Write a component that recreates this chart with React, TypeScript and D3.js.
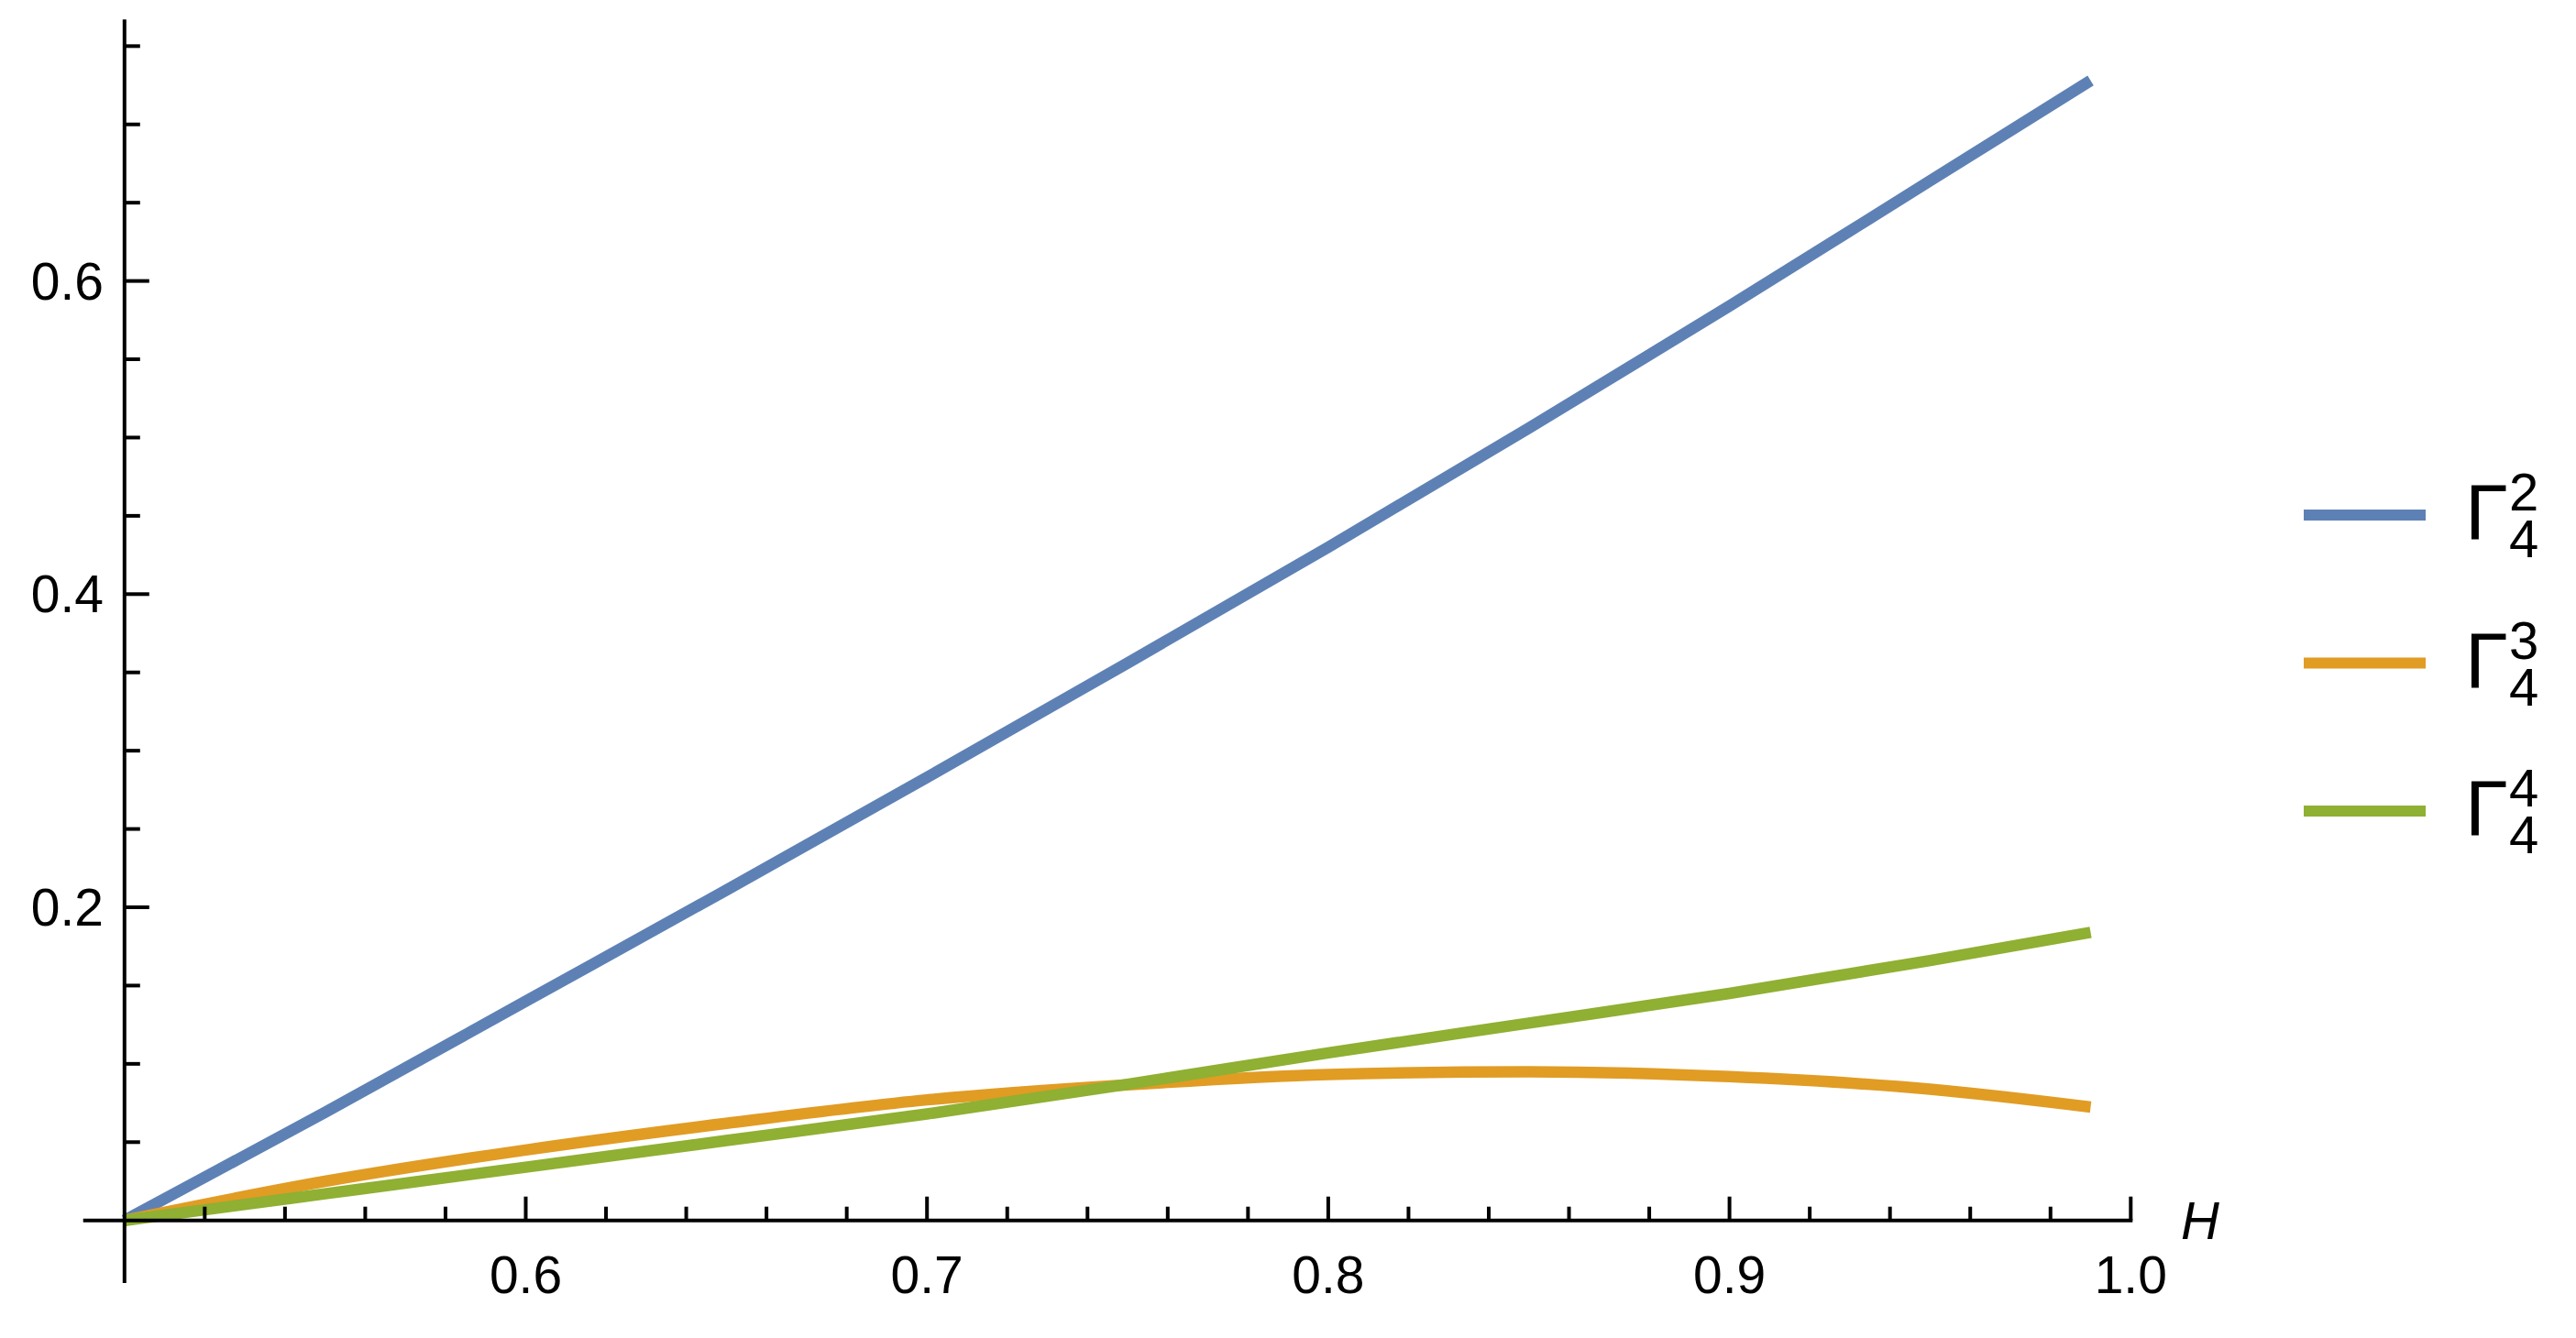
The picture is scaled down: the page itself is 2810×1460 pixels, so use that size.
import React from "react";
import * as d3 from "d3";

const H = [0.5, 0.55, 0.6, 0.65, 0.7, 0.75, 0.8, 0.85, 0.9, 0.95, 0.99];
const gamma2 = [0, 0.069, 0.14, 0.211, 0.283, 0.356, 0.43, 0.506, 0.584, 0.664, 0.728];
const gamma3 = [0, 0.025, 0.045, 0.062, 0.077, 0.0866, 0.0932, 0.095, 0.0918, 0.0838, 0.0724];
const gamma4 = [0, 0.017, 0.034, 0.051, 0.068, 0.087, 0.107, 0.126, 0.145, 0.166, 0.184];

const seriesNames = ["2", "3", "4"];
const seriesColors = ["#5E81B5", "#E19C24", "#8FB032"];

const xMajorTicks = [0.6, 0.7, 0.8, 0.9, 1.0];
const xTickLabels = ["0.6", "0.7", "0.8", "0.9", "1.0"];
const yMajorTicks = [0.2, 0.4, 0.6];
const yTickLabels = ["0.2", "0.4", "0.6"];

const W = 2810;
const HGT = 1460;
const FONT = "'Liberation Sans', Arial, sans-serif";

export default function App() {
  const x = d3.scaleLinear().domain([0.5, 1.0]).range([135.8, 2324.3]);
  const y = d3.scaleLinear().domain([0, 0.6]).range([1331.7, 306.6]);

  const xMinor = d3.range(26).map((i) => +(0.5 + i * 0.02).toFixed(2)).filter(
    (v) => v > 0.5 && !xMajorTicks.some((m) => Math.abs(m - v) < 1e-6)
  );
  const yMinor = d3.range(1, 16).map((i) => +(i * 0.05).toFixed(2)).filter(
    (v) => !yMajorTicks.some((m) => Math.abs(m - v) < 1e-6)
  );

  const series = [gamma2, gamma3, gamma4];
  const line = d3
    .line<number>()
    .x((_, i) => x(H[i]))
    .y((d) => y(d))
    .curve(d3.curveMonotoneX);

  const x0 = x(0.5);
  const y0 = y(0);
  const axisW = 4;

  const legendX1 = 2513;
  const legendX2 = 2646;
  const legendY = [562, 723.5, 885];

  return (
    <svg
      width={W}
      height={HGT}
      style={{ position: "absolute", left: 0, top: 0, display: "block", background: "#fff" }}
    >
      <rect x={0} y={0} width={W} height={HGT} fill="#fff" />
      {series.map((s, k) => (
        <path
          key={k}
          d={line(s) || ""}
          fill="none"
          stroke={seriesColors[k]}
          strokeWidth={12.5}
          strokeLinejoin="round"
        />
      ))}
      <line x1={x(0.4897)} x2={x(1.0) + 2} y1={y0} y2={y0} stroke="#000" strokeWidth={axisW} />
      <line x1={x0} x2={x0} y1={y(-0.04)} y2={y(0.767)} stroke="#000" strokeWidth={axisW} />
      {xMajorTicks.map((t) => (
        <line key={"xm" + t} x1={x(t)} x2={x(t)} y1={y0} y2={y0 - 26} stroke="#000" strokeWidth={4} />
      ))}
      {xMinor.map((t) => (
        <line key={"xn" + t} x1={x(t)} x2={x(t)} y1={y0} y2={y0 - 15} stroke="#000" strokeWidth={4} />
      ))}
      {xMajorTicks.map((t, i) => (
        <text
          key={"xl" + t}
          x={x(t)}
          y={1411}
          textAnchor="middle"
          fontFamily={FONT}
          fontSize={57}
          fill="#000"
        >
          {xTickLabels[i]}
        </text>
      ))}
      {yMajorTicks.map((t) => (
        <line key={"ym" + t} x1={x0} x2={x0 + 27} y1={y(t)} y2={y(t)} stroke="#000" strokeWidth={4} />
      ))}
      {yMinor.map((t) => (
        <line key={"yn" + t} x1={x0} x2={x0 + 17} y1={y(t)} y2={y(t)} stroke="#000" strokeWidth={4} />
      ))}
      {yMajorTicks.map((t, i) => (
        <text
          key={"yl" + t}
          x={113}
          y={y(t) + 20}
          textAnchor="end"
          fontFamily={FONT}
          fontSize={57}
          fill="#000"
        >
          {yTickLabels[i]}
        </text>
      ))}
      <text x={2379} y={1352} fontFamily={FONT} fontStyle="italic" fontSize={58} fill="#000">
        H
      </text>
      {seriesNames.map((n, k) => (
        <g key={"lg" + n}>
          <line
            x1={legendX1}
            x2={legendX2}
            y1={legendY[k]}
            y2={legendY[k]}
            stroke={seriesColors[k]}
            strokeWidth={12}
          />
          <text x={2689} y={legendY[k] + 26} fontFamily={FONT} fontSize={85} fill="#000">
            Γ
          </text>
          <text x={2737} y={legendY[k] - 5} fontFamily={FONT} fontSize={58} fill="#000">
            {n}
          </text>
          <text x={2737} y={legendY[k] + 46} fontFamily={FONT} fontSize={58} fill="#000">
            4
          </text>
        </g>
      ))}
    </svg>
  );
}
